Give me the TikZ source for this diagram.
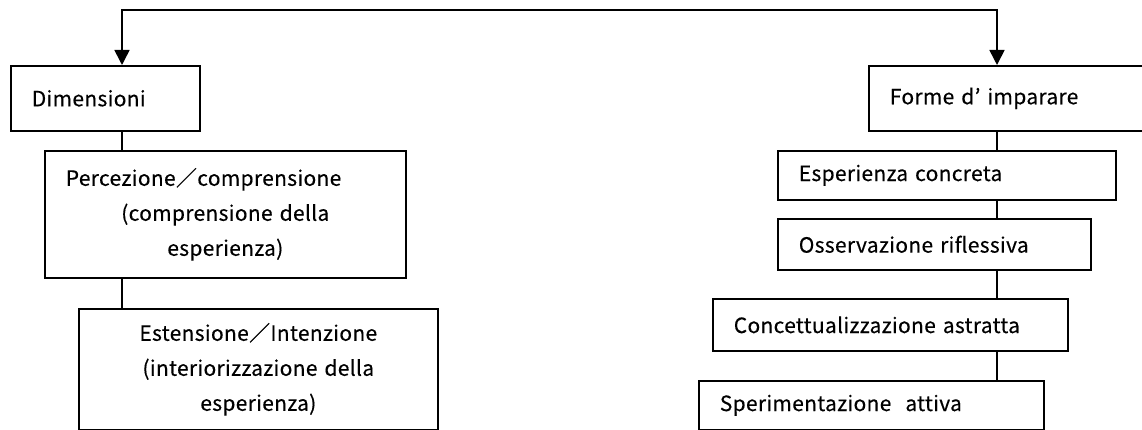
\documentclass[tikz,border=0pt]{standalone}
\usepackage{fontspec}
\setmainfont{Noto Sans CJK JP}[FakeBold=0.3, LetterSpace=1.5]
\usetikzlibrary{positioning,arrows.meta}

\begin{document}
\begin{tikzpicture}[
			x=1pt, y=-1pt,
			line width=1.6pt,
			>={Triangle[width=15pt,length=15pt]},
			font=\fontsize{21}{35}\selectfont,
			box/.style = {draw, anchor=north west, inner xsep=21pt, inner ysep=0pt},
			lbox/.style = {box, align=left},
			cbox/.style = {box, align=center}
		]
		\useasboundingbox (0,0) rectangle (1142,430);
		% Left column: dimensions.
		\node[lbox, text width=147pt, minimum height=65pt] (dim) at (10,65) {Dimensioni};
		\node[cbox, text width=319pt, minimum height=127pt] (perc) at (44,150)
			{\makebox[\linewidth][l]{Percezione／comprensione}\\(comprensione della\\esperienza)};
		\node[cbox, text width=317pt, minimum height=121pt] (est) at (78,308)
			{Estensione／Intenzione\\(interiorizzazione della\\esperienza)};
		% Right column: ways of learning.
		\node[lbox, text width=258pt, minimum height=65pt] (forme) at (868,65) {Forme d’ imparare};
		\node[lbox, text width=296pt, minimum height=49pt] (esp) at (777,150) {Esperienza concreta};
		\node[lbox, text width=271pt, minimum height=51pt] (oss) at (777,218) {Osservazione riflessiva};
		\node[lbox, text width=313pt, minimum height=52pt] (conc) at (712,298) {Concettualizzazione astratta};
		\node[lbox, text width=303pt, minimum height=49pt] (sper) at (698,380) {Sperimentazione\ \ attiva};
		% Draw the top connector.
		\coordinate (tl) at (122,10);
		\coordinate (tr) at (997,10);
		\draw[<->] (tl |- dim.north) -- (tl) -- (tr) -- (tr |- forme.north);
		% Draw the column edges.
		\draw (tl |- dim.south) -- (tl |- perc.north);
		\draw (tl |- perc.south) -- (tl |- est.north);
		\foreach \a/\b in {forme/esp, esp/oss, oss/conc, conc/sper}
			\draw (tr |- \a.south) -- (tr |- \b.north);
	\end{tikzpicture}
\end{document}
